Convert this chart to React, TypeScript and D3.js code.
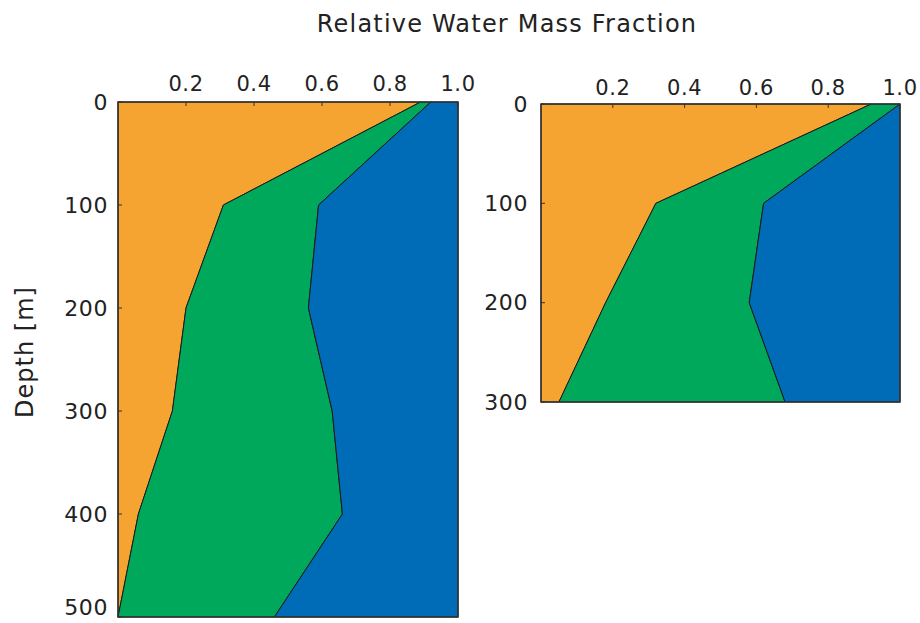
import React from 'react';
import * as d3 from 'd3';

// depth levels [m]
const depthsLeft = [0, 100, 200, 300, 400, 500];
const depthsRight = [0, 100, 200, 300];

// water mass fractions per depth level
const orangeLeft = [0.89, 0.31, 0.20, 0.16, 0.06, 0.0];
const greenLeft = [0.03, 0.28, 0.36, 0.47, 0.60, 0.46];
const blueLeft = [0.08, 0.41, 0.44, 0.37, 0.34, 0.54];

const orangeRight = [0.92, 0.32, 0.18, 0.05];
const greenRight = [0.08, 0.30, 0.40, 0.63];
const blueRight = [0.0, 0.38, 0.42, 0.32];

const xTicks = [0.2, 0.4, 0.6, 0.8, 1.0];
const yTicksLeft = [0, 100, 200, 300, 400, 500];
const yTicksRight = [0, 100, 200, 300];

const keys = ['orange', 'green', 'blue'];
const colors: Record<string, string> = {
  orange: '#F5A431',
  green: '#00A85B',
  blue: '#006BB6',
};

const font = "'DejaVu Sans', sans-serif";

type PanelProps = {
  depths: number[];
  orange: number[];
  green: number[];
  blue: number[];
  yTicks: number[];
  x0: number;
  x1: number;
  y0: number;
  y1: number;
  labelGap: number;
  topGap: number;
};

function Panel({ depths, orange, green, blue, yTicks, x0, x1, y0, y1, labelGap, topGap }: PanelProps) {
  const rows = depths.map((d, i) => ({ depth: d, orange: orange[i], green: green[i], blue: blue[i] }));
  const series = d3.stack<any>().keys(keys)(rows);

  const x = d3.scaleLinear().domain([0, 1]).range([x0, x1]);
  const y = d3.scaleLinear().domain([0, d3.max(depths) as number]).range([y0, y1]);

  const area = d3.area<any>()
    .y(d => y(d.data.depth))
    .x0(d => x(d[0]))
    .x1(d => x(d[1]));

  return (
    <g>
      {series.map(s => (
        <path key={s.key} d={area(s) as string} fill={colors[s.key]} stroke="#1a1a1a" strokeWidth={1} strokeLinejoin="round" />
      ))}
      <rect x={x0} y={y0} width={x1 - x0} height={y1 - y0} fill="none" stroke="#333" strokeWidth={1.5} />
      {xTicks.map(t => (
        <g key={t}>
          <line x1={x(t)} x2={x(t)} y1={y0} y2={y0 + 4} stroke="#333" />
          <text x={x(t)} y={y0 - topGap} textAnchor="middle" fontSize={21} fill="#222" fontFamily={font} letterSpacing={0.6}>
            {t.toFixed(1)}
          </text>
        </g>
      ))}
      {yTicks.map(t => (
        <g key={t}>
          <line x1={x0} x2={x0 + 4} y1={y(t)} y2={y(t)} stroke="#333" />
          {/* keep the deepest label inside the page */}
          <text x={x0 - labelGap} y={Math.min(y(t), 607)} dy="0.35em" textAnchor="end" fontSize={22} fill="#222" fontFamily={font} letterSpacing={0.6}>
            {t}
          </text>
        </g>
      ))}
    </g>
  );
}

export default function App() {
  return (
    <svg width={920} height={623} style={{ position: 'absolute', left: 0, top: 0, background: '#fff' }}>
      <text x={507} y={32} textAnchor="middle" fontSize={24} fill="#222" fontFamily={font} letterSpacing={1.2}>
        Relative Water Mass Fraction
      </text>
      <text transform="translate(33,352) rotate(-90)" textAnchor="middle" fontSize={24} fill="#222" fontFamily={font} letterSpacing={1}>
        Depth [m]
      </text>
      <Panel depths={depthsLeft} orange={orangeLeft} green={greenLeft} blue={blueLeft}
        yTicks={yTicksLeft} x0={118} x1={458} y0={102} y1={617} labelGap={10} topGap={11} />
      <Panel depths={depthsRight} orange={orangeRight} green={greenRight} blue={blueRight}
        yTicks={yTicksRight} x0={541} x1={900} y0={104} y1={402} labelGap={13} topGap={9} />
    </svg>
  );
}
